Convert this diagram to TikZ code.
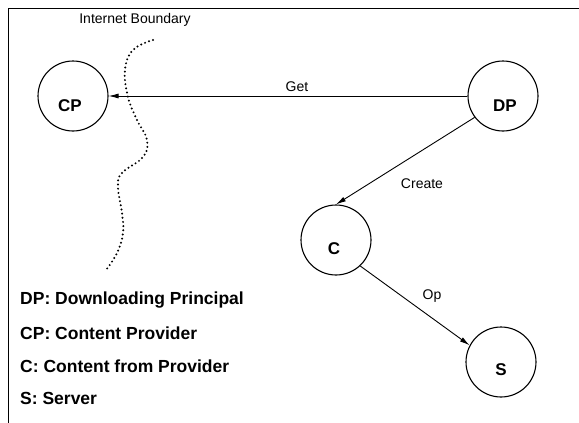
\documentclass[tikz,border=0pt]{standalone}
\usepackage{fontspec}
\setmainfont{Liberation Sans}
\usetikzlibrary{arrows.meta}
\begin{document}
\begin{tikzpicture}[x=1pt,y=-1pt,
  party/.style={circle,draw,line width=1.1pt,minimum size=70pt,inner sep=0pt},
  tag/.style={font=\bfseries\fontsize{17}{19}\selectfont,inner sep=0pt},
  edgelabel/.style={font=\fontsize{14}{16}\selectfont,inner sep=0pt},
  legend/.style={font=\bfseries\fontsize{17.5}{20}\selectfont,anchor=west,inner sep=0pt},
  flow/.style={line width=0.9pt,-{Latex[length=10pt,width=5pt]}}]
\useasboundingbox (0,0) rectangle (579,423);
% frame: top and left edges only
\draw[line width=1pt] (8,423) -- (8,8) -- (579,8);

% principals
\node[party] (CP) at (73,96) {};
\node[tag] at (70,106) {CP};
\node[party] (DP) at (503,96) {};
\node[tag] at (505,106) {DP};
\node[party] (C) at (336,240) {};
\node[tag] at (334,249) {C};
\node[party] (S) at (501,362) {};
\node[tag] at (501,370) {S};

% interactions
\draw[flow] (DP.west) -- (CP.east);
\node[edgelabel] (get) at (297,87) {Get};
\draw[flow] (DP.217) -- (C.north);
\node[edgelabel] (create) at (422,184) {Create};
\draw[flow] (C.313) -- (S.152);
\node[edgelabel] (op) at (432,296) {Op};

% internet boundary
\node[edgelabel] (ib) at (135,20) {Internet Boundary};
\draw[line width=2.2pt,line cap=round,dash pattern=on 0pt off 4.2pt]
  plot[smooth,tension=0.7] coordinates {(153,40) (133,50) (125,70) (128,97) (137,120)
    (147,140) (143,157) (122,173) (118,187) (122,213) (123,233) (117,253) (106,270)};

% legend
\node[legend] (l1) at (20,300) {DP: Downloading Principal};
\node[legend] (l2) at (20,333) {CP: Content Provider};
\node[legend] (l3) at (20,366) {C: Content from Provider};
\node[legend] (l4) at (20,398) {S: Server};
\end{tikzpicture}
\end{document}
